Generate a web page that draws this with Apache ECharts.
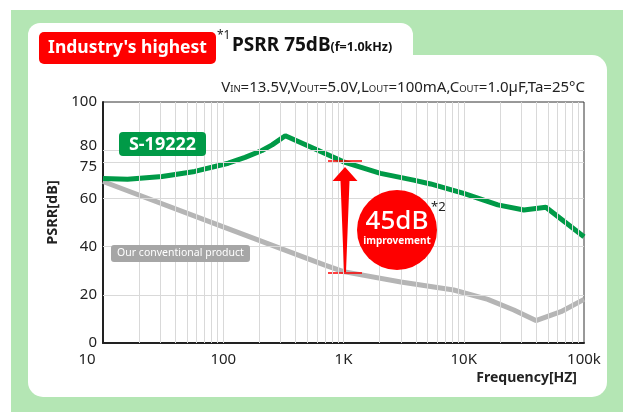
<!DOCTYPE html>
<html>
<head>
<meta charset="utf-8">
<script src="https://cdn.jsdelivr.net/npm/echarts@6/dist/echarts.min.js"></script>
<style>
html,body{margin:0;padding:0;background:#ffffff;}
#c{width:630px;height:412px;}
</style>
</head>
<body>
<div id="c"></div>
<script>
// ---- data ----
const freqGreen = [10, 16, 31, 58, 110, 152, 210, 255, 328, 562, 1000, 2030, 3830, 5300, 10000, 19200, 31600, 48200, 100000];
const psrrGreen = [68.3, 67.9, 69.1, 71.2, 74.6, 77.0, 79.9, 82.2, 86.0, 80.8, 75.2, 70.4, 67.6, 66.0, 62.1, 57.3, 55.2, 56.3, 44.1];
const freqGray = [10, 100, 700, 1000, 3000, 8250, 15850, 26100, 39800, 64300, 100000];
const psrrGray = [67.0, 48.2, 32.3, 29.6, 25.3, 22.0, 18.1, 13.7, 9.3, 13.0, 18.1];
const xTickValues = [10, 100, 1000, 10000, 100000];
const xTickLabels = ['10', '100', '1K', '10K', '100k'];
const yTickLabels = [0, 20, 40, 60, 75, 80, 100];
const yGridValues = [20, 40, 60, 75, 80];
const annoFreq = 1000;
const annoTop = 75.5;
const annoBottom = 29;

const FONT = "'Noto Sans', 'Noto Sans CJK JP', sans-serif";
const GREEN = '#009a47';
const GRAY = '#b5b5b5';
const RED = '#fe0000';

// minor log grid values
const vGrid = [];
for (let d = 10; d < 100000; d *= 10) {
  for (let m = 1; m <= 9; m++) {
    const v = d * m;
    if (v > 10 && v < 100000) vGrid.push(v);
  }
}

const chart = echarts.init(document.getElementById('c'), null, {renderer: 'canvas'});

const baseGraphics = [
  {type: 'rect', z: -20, shape: {x: 11, y: 10, width: 612, height: 402}, style: {fill: '#b4e6b4'}, silent: true},
  {type: 'rect', z: -19, shape: {x: 28, y: 23, width: 385, height: 60, r: 12}, style: {fill: '#ffffff'}, silent: true},
  {type: 'rect', z: -19, shape: {x: 28, y: 55, width: 579, height: 342, r: [0, 15, 15, 15]}, style: {fill: '#ffffff'}, silent: true},
  // title
  {type: 'rect', z: 50, shape: {x: 39, y: 32, width: 177, height: 32, r: 5}, style: {fill: RED}},
  {type: 'text', z: 51, style: {x: 127.5, y: 48, text: "Industry's highest", fill: '#fff', font: 'bold 17.5px ' + FONT, align: 'center', verticalAlign: 'middle'}},
  {type: 'text', z: 51, style: {x: 217, y: 36, text: '*1', fill: '#222', font: '12px ' + FONT, align: 'left', verticalAlign: 'middle'}},
  {type: 'text', z: 51, style: {x: 232, y: 55, text: 'PSRR 75dB{s|(f=1.0kHz)}', fill: '#111', font: 'bold 19px ' + FONT, align: 'left', verticalAlign: 'bottom',
    rich: {s: {font: 'bold 12.5px ' + FONT, fill: '#111', verticalAlign: 'bottom', padding: [0, 0, 1, 0]}}}},
  // conditions
  {type: 'text', z: 51, style: {x: 585, y: 88, text: 'V{s|IN}=13.5V,V{s|OUT}=5.0V,L{s|OUT}=100mA,C{s|OUT}=1.0µF,Ta=25°C', fill: '#222', font: '15px ' + FONT, align: 'right', verticalAlign: 'middle',
    rich: {s: {font: '9.5px ' + FONT, fill: '#222', verticalAlign: 'bottom', padding: [0, 0, 1, 0]}}}},
  // series labels
  {type: 'rect', z: 50, shape: {x: 119, y: 132, width: 87, height: 24, r: 4}, style: {fill: GREEN}},
  {type: 'text', z: 51, style: {x: 162.5, y: 144.5, text: 'S-19222', fill: '#fff', font: 'bold 18px ' + FONT, align: 'center', verticalAlign: 'middle'}},
  {type: 'rect', z: 50, shape: {x: 111, y: 245, width: 139, height: 17, r: 3}, style: {fill: '#a6a6a6'}},
  {type: 'text', z: 51, style: {x: 180.5, y: 253.5, text: 'Our conventional product', fill: '#fff', font: '10.5px ' + FONT, align: 'center', verticalAlign: 'middle'}},
  // improvement bubble
  {type: 'circle', z: 50, shape: {cx: 397, cy: 230, r: 40}, style: {fill: RED}},
  {type: 'text', z: 51, style: {x: 397, y: 222, text: '45dB', fill: '#fff', font: '500 26px ' + FONT, align: 'center', verticalAlign: 'middle'}},
  {type: 'text', z: 51, style: {x: 397, y: 241.5, text: 'improvement', fill: '#fff', font: 'bold 10px ' + FONT, align: 'center', verticalAlign: 'middle'}},
  {type: 'text', z: 51, style: {x: 431, y: 207, text: '*2', fill: '#222', font: '13px ' + FONT, align: 'left', verticalAlign: 'middle'}}
];

const option = {
  animation: false,
  backgroundColor: '#ffffff',
  textStyle: {fontFamily: FONT},
  grid: {left: 103, right: 46, top: 102, bottom: 69, show: true, borderColor: '#333', borderWidth: 1, backgroundColor: 'transparent'},
  xAxis: {
    type: 'log', logBase: 10, min: 10, max: 100000,
    axisLine: {show: true, lineStyle: {color: '#222', width: 2}},
    axisTick: {show: false},
    splitLine: {show: false},
    minorTick: {show: false},
    axisLabel: {
      color: '#222', fontSize: 15, fontFamily: FONT, margin: 9,
      formatter: function (v) {
        const i = xTickValues.findIndex(t => Math.abs(Math.log10(t) - Math.log10(v)) < 1e-6);
        if (i < 0) return '';
        if (i === 0) return '{a|' + xTickLabels[i] + '}';
        return xTickLabels[i];
      },
      rich: {a: {fontSize: 15, color: '#222', fontFamily: FONT, padding: [0, 32, 0, 0]}}
    },
    name: 'Frequency[HZ]', nameLocation: 'end', nameGap: -7,
    nameTextStyle: {fontSize: 14, fontWeight: 'bold', color: '#222', fontFamily: FONT, align: 'right', verticalAlign: 'top', padding: [28, 0, 0, 0]}
  },
  yAxis: {
    type: 'value', min: 0, max: 100, interval: 5,
    axisLine: {show: true, lineStyle: {color: '#222', width: 2}},
    axisTick: {show: false},
    splitLine: {show: false},
    axisLabel: {
      color: '#222', fontSize: 15, fontFamily: FONT, margin: 6,
      formatter: function (v) {
        if (yTickLabels.indexOf(v) < 0) return '';
        if (v === 80) return '{u|80}';
        if (v === 75) return '{d|75}';
        return String(v);
      },
      rich: {
        u: {fontSize: 15, color: '#222', fontFamily: FONT, padding: [0, 0, 8, 0]},
        d: {fontSize: 15, color: '#222', fontFamily: FONT, padding: [8, 0, 0, 0]}
      }
    },
    name: 'PSRR[dB]', nameLocation: 'middle', nameGap: 38,
    nameTextStyle: {fontSize: 14.5, fontWeight: 'bold', color: '#222', fontFamily: FONT, padding: [0, 0, 0, 20]}
  },
  series: [
    {
      name: 'grid', type: 'line', data: [], silent: true, z: 1,
      markLine: {
        silent: true, symbol: ['none', 'none'], label: {show: false}, animation: false,
        lineStyle: {color: '#d9d9d9', width: 1, type: 'solid'},
        emphasis: {disabled: true},
        data: vGrid.map(v => ({xAxis: v})).concat(yGridValues.map(v => ({yAxis: v})))
      }
    },
    {
      name: 'Our conventional product', type: 'line', z: 3,
      data: freqGray.map((f, i) => [f, psrrGray[i]]),
      showSymbol: false, symbol: 'none',
      lineStyle: {color: GRAY, width: 5},
      emphasis: {disabled: true}
    },
    {
      name: 'S-19222', type: 'line', z: 4,
      data: freqGreen.map((f, i) => [f, psrrGreen[i]]),
      showSymbol: false, symbol: 'none',
      lineStyle: {color: GREEN, width: 5},
      emphasis: {disabled: true}
    }
  ],
  graphic: baseGraphics
};

chart.setOption(option);

// arrow annotation placed through the chart scales
const pT = chart.convertToPixel({gridIndex: 0}, [annoFreq, annoTop]);
const pB = chart.convertToPixel({gridIndex: 0}, [annoFreq, annoBottom]);
const cx = pT[0] + 1.5;
const arrowGraphics = [
  {type: 'line', z: 5, shape: {x1: cx - 17, y1: pT[1], x2: cx + 17, y2: pT[1]}, style: {stroke: RED, lineWidth: 1.5}},
  {type: 'line', z: 5, shape: {x1: cx - 17, y1: pB[1], x2: cx + 17, y2: pB[1]}, style: {stroke: RED, lineWidth: 1.5}},
  {type: 'polygon', z: 6, shape: {points: [
    [cx, pT[1] + 6], [cx + 12.5, pT[1] + 20], [cx + 4.5, pT[1] + 20], [cx + 1, pB[1] - 1],
    [cx - 1, pB[1] - 1], [cx - 4.5, pT[1] + 20], [cx - 12.5, pT[1] + 20]
  ]}, style: {fill: RED}}
];
chart.setOption({graphic: baseGraphics.concat(arrowGraphics)});
</script>
</body>
</html>
